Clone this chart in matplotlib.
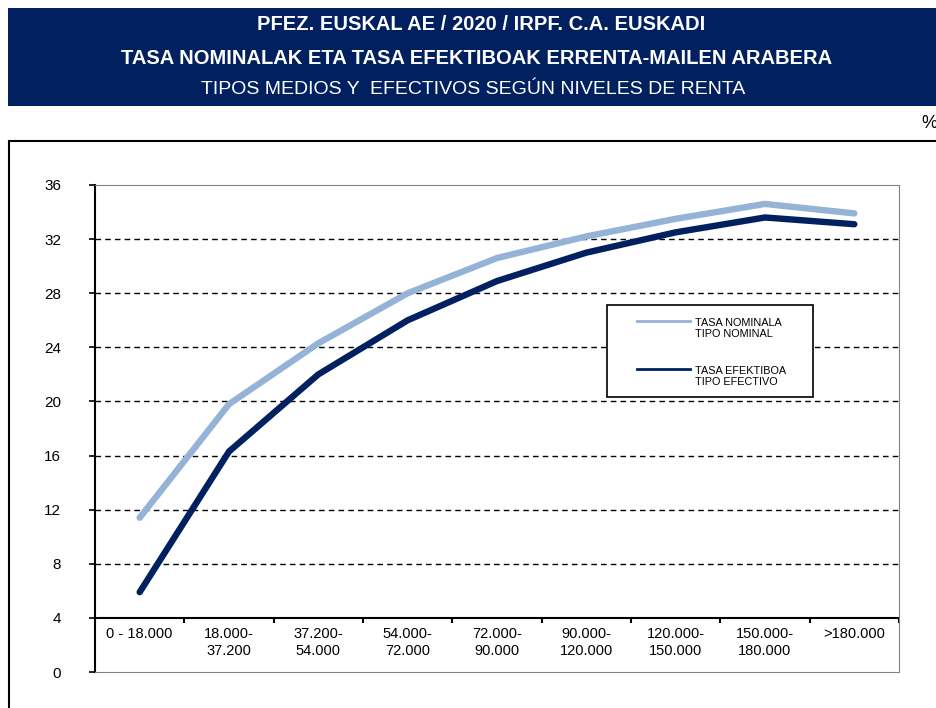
import matplotlib.pyplot as plt
from matplotlib.patches import Rectangle
from matplotlib.lines import Line2D

plt.rcParams['font.family'] = ['Liberation Sans', 'DejaVu Sans']

# data
categories = ['0 - 18.000', '18.000-\n37.200', '37.200-\n54.000', '54.000-\n72.000',
              '72.000-\n90.000', '90.000-\n120.000', '120.000-\n150.000',
              '150.000-\n180.000', '>180.000']
nominal = [11.4, 19.8, 24.3, 28.0, 30.6, 32.2, 33.5, 34.6, 33.9]
efectivo = [5.9, 16.3, 22.0, 26.0, 28.9, 31.0, 32.5, 33.6, 33.1]
yticks = [0, 4, 8, 12, 16, 20, 24, 28, 32, 36]
title_lines = ['PFEZ. EUSKAL AE / 2020 / IRPF. C.A. EUSKADI',
               'TASA NOMINALAK ETA TASA EFEKTIBOAK ERRENTA-MAILEN ARABERA',
               'TIPOS MEDIOS Y  EFECTIVOS SEGÚN NIVELES DE RENTA']
legend_labels = ['TASA NOMINALA\nTIPO NOMINAL', 'TASA EFEKTIBOA\nTIPO EFECTIVO']

light = '#95b3d7'
navy = '#002060'

W, H = 937, 708
fig = plt.figure(figsize=(W / 100, H / 100), dpi=100)

# title banner
fig.patches.append(Rectangle((8 / W, 1 - 106 / H), 1, 98 / H, transform=fig.transFigure,
                             facecolor=navy, edgecolor='none', zorder=0))
fig.text(0.514, 1 - 25 / H, title_lines[0], ha='center', va='center', color='white',
         fontsize=14.5, fontweight='bold')
fig.text(0.509, 1 - 58 / H, title_lines[1], ha='center', va='center', color='white',
         fontsize=14.5, fontweight='bold')
fig.text(0.505, 1 - 89 / H, title_lines[2], ha='center', va='center', color='white',
         fontsize=14)
fig.text(921 / W, 1 - 123 / H, '%', ha='left', va='center', fontsize=13)

# outer chart border
fig.patches.append(Rectangle((9 / W, -0.05), 1.1, 1 - 141 / H + 0.05, transform=fig.transFigure,
                             facecolor='none', edgecolor='black', lw=1.5, zorder=0))

ax = fig.add_axes([95 / W, 36 / H, 804 / W, 487 / H])
x = list(range(len(categories)))

# gridlines
for v in yticks[2:-1]:
    ax.axhline(v, color='black', lw=1, ls=(0, (4, 3)), zorder=1)
ax.axhline(4, color='black', lw=1.5, zorder=2)
ax.vlines([i - 0.5 for i in range(len(categories) + 1)], 3.65, 4, color='black', lw=1.5)

ax.plot(x, nominal, color=light, lw=4.6, solid_capstyle='round', zorder=3)
ax.plot(x, efectivo, color=navy, lw=4.6, solid_capstyle='round', zorder=4)

ax.set_xlim(-0.5, len(categories) - 0.5)
ax.set_ylim(0, 36)
ax.set_yticks(yticks)
ax.tick_params(axis='y', length=4.5, width=1.2, pad=20, labelsize=11)
ax.set_xticks([])

for s in ['top', 'bottom']:
    ax.spines[s].set_color('#808080')
    ax.spines[s].set_linestyle((0, (3, 1)))
ax.spines['right'].set_color('#808080')
ax.spines['left'].set_linewidth(1.5)

for i, lab in enumerate(categories):
    ax.text(i, 3.3, lab, ha='center', va='top', fontsize=10.5)

# legend box
ax.add_patch(Rectangle((0.637, 0.5647), 0.256, 0.189, transform=ax.transAxes,
                       facecolor='white', edgecolor='black', lw=1.2, zorder=5))
leg_y = [0.7207, 0.6222]
for yy, c, lab in zip(leg_y, [light, navy], legend_labels):
    ax.add_line(Line2D([0.674, 0.740], [yy, yy], transform=ax.transAxes, color=c, lw=2, zorder=6))
    ax.text(0.746, yy + 0.006, lab, transform=ax.transAxes, ha='left', va='top',
            fontsize=7.8, linespacing=1.15, zorder=6)

fig.savefig('out.png', dpi=100)
